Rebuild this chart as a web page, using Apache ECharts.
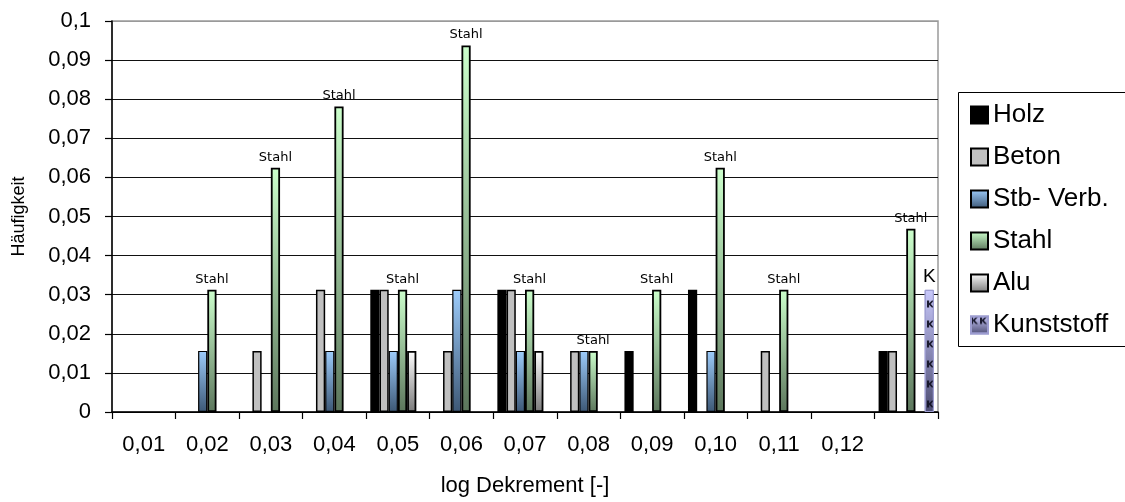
<!DOCTYPE html>
<html>
<head>
<meta charset="utf-8">
<script src="https://cdn.jsdelivr.net/npm/echarts@6/dist/echarts.min.js"></script>
<style>
html,body{margin:0;padding:0;background:#fff;}
#chart{width:1125px;height:502px;}
</style>
</head>
<body>
<div id="chart"></div>
<script>
const categories = ['0,01','0,02','0,03','0,04','0,05','0,06','0,07','0,08','0,09','0,10','0,11','0,12',''];
const holz       = [0, 0, 0, 0, 0.03125, 0, 0.03125, 0, 0.015625, 0.03125, 0, 0, 0.015625];
const beton      = [0, 0, 0.015625, 0.03125, 0.03125, 0.015625, 0.03125, 0.015625, 0, 0, 0.015625, 0, 0.015625];
const stbVerb    = [0, 0.015625, 0, 0.015625, 0.015625, 0.03125, 0.015625, 0.015625, 0, 0.015625, 0, 0, 0];
const stahl      = [0, 0.03125, 0.0625, 0.078125, 0.03125, 0.09375, 0.03125, 0.015625, 0.03125, 0.0625, 0.03125, 0, 0.046875];
const alu        = [0, 0, 0, 0, 0.015625, 0, 0.015625, 0, 0, 0, 0, 0, 0];
const kunststoff = [0, 0, 0, 0, 0, 0, 0, 0, 0, 0, 0, 0, 0.03125];
const yMin = 0, yMax = 0.1, yStep = 0.01;

const nz = arr => arr.map(v => (v === 0 ? null : v));
const grad = (top, bottom) => new echarts.graphic.LinearGradient(0, 0, 0, 1, [
  { offset: 0, color: top }, { offset: 1, color: bottom }
]);
const FONT = 'Liberation Sans, Arial, sans-serif';

const chart = echarts.init(document.getElementById('chart'), null, { renderer: 'canvas' });

const baseBar = {
  type: 'bar',
  barGap: '0%',
  barCategoryGap: '13%',
  animation: false
};

const option = {
  animation: false,
  backgroundColor: '#fff',
  textStyle: { fontFamily: FONT },
  graphic: [{
    type: 'rect',
    shape: { x: 958.5, y: 92.5, width: 200, height: 254 },
    style: { fill: '#fff', stroke: '#000', lineWidth: 1 },
    z: -1
  }],
  grid: {
    left: 112, right: 187, top: 21, bottom: 90,
    show: true, borderColor: '#9a9a9a', borderWidth: 1.5
  },
  legend: {
    orient: 'vertical',
    left: 970, top: 102,
    padding: 0,
    itemWidth: 17, itemHeight: 17,
    itemGap: 16,
    icon: 'rect',
    textStyle: { fontFamily: FONT, fontSize: 26, lineHeight: 26, color: '#000' },
    data: ['Holz', 'Beton', 'Stb- Verb.', 'Stahl', 'Alu', 'Kunststoff']
  },
  xAxis: {
    type: 'category',
    data: categories,
    name: 'log Dekrement [-]',
    nameLocation: 'middle',
    nameGap: 63,
    nameTextStyle: { fontFamily: FONT, fontSize: 22, color: '#000' },
    axisLine: { lineStyle: { color: '#000', width: 1.5 } },
    axisTick: { show: true, length: 7, lineStyle: { color: '#000', width: 1.2 } },
    axisLabel: { fontFamily: FONT, fontSize: 22, color: '#000', margin: 22, interval: 0 },
    splitLine: { show: false }
  },
  yAxis: {
    type: 'value',
    min: yMin, max: yMax, interval: yStep,
    name: 'Häufigkeit',
    nameLocation: 'middle',
    nameGap: 84,
    nameRotate: 90,
    nameTextStyle: { fontFamily: FONT, fontSize: 18, color: '#000' },
    axisLine: { show: true, lineStyle: { color: '#000', width: 1.5 } },
    axisTick: { show: true, length: 7, lineStyle: { color: '#000', width: 1.2 } },
    axisLabel: {
      fontFamily: FONT, fontSize: 22, color: '#000', margin: 21,
      formatter: v => (v === 0 ? '0' : v.toFixed(2).replace(/0$/, '').replace('.', ','))
    },
    splitLine: {
      show: true,
      lineStyle: { color: ['#000','#111','#111','#111','#111','#111','#111','#111','#111','#111','#9a9a9a'], width: 1.2 }
    }
  },
  series: [
    Object.assign({}, baseBar, {
      name: 'Holz', data: nz(holz),
      itemStyle: { color: '#000', borderColor: '#000', borderWidth: 3.5 }
    }),
    Object.assign({}, baseBar, {
      name: 'Beton', data: nz(beton),
      itemStyle: { color: '#c0c0c0', borderColor: '#000', borderWidth: 1.5 }
    }),
    Object.assign({}, baseBar, {
      name: 'Stb- Verb.', data: nz(stbVerb),
      itemStyle: { color: grad('#9dccfb', '#3d5876'), borderColor: '#000', borderWidth: 1.2 }
    }),
    Object.assign({}, baseBar, {
      name: 'Stahl', data: nz(stahl),
      itemStyle: { color: grad('#ccffcc', '#5c765c'), borderColor: '#000', borderWidth: 1.8 },
      label: {
        show: true, position: 'top', distance: 4,
        formatter: 'Stahl',
        fontFamily: 'DejaVu Sans, Verdana, sans-serif', fontSize: 13, color: '#000'
      }
    }),
    Object.assign({}, baseBar, {
      name: 'Alu', data: nz(alu),
      itemStyle: { color: grad('#ffffff', '#7a7a7a'), borderColor: '#000', borderWidth: 1.8 }
    }),
    Object.assign({}, baseBar, {
      name: 'Kunststoff', data: nz(kunststoff),
      itemStyle: {
        color: grad('#c8c8fa', '#4c4c72'), borderColor: '#9c9cd0', borderWidth: 1,
        decal: {
          symbol: 'path://M0,0 L3,0 L3,4 L7,0 L10,0 L5.5,5 L10,10 L7,10 L3,6 L3,10 L0,10 Z',
          symbolSize: 1,
          color: 'rgba(20,20,40,0.95)',
          backgroundColor: 'transparent',
          dashArrayX: [7, 2],
          dashArrayY: [8, 12]
        }
      },
      label: {
        show: true, position: 'top', distance: 4,
        formatter: 'K',
        fontFamily: FONT, fontSize: 19, color: '#000'
      }
    })
  ]
};
chart.setOption(option);
</script>
</body>
</html>
